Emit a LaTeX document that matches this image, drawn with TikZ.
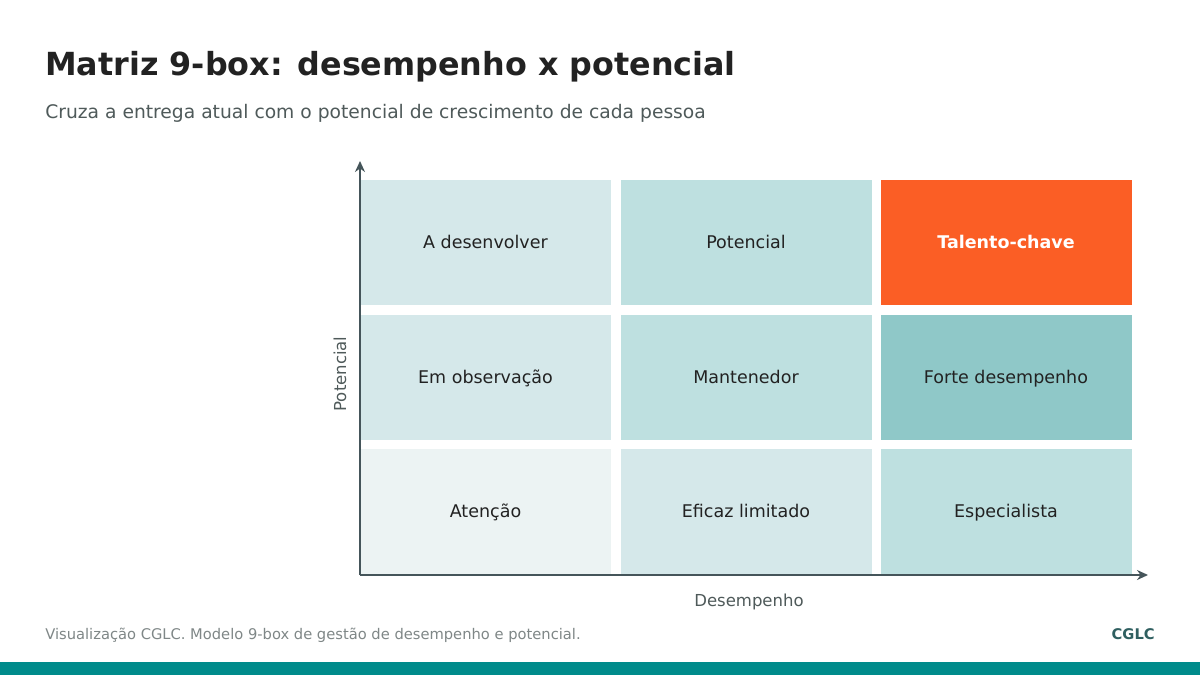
\documentclass[tikz,border=0pt]{standalone}
\usepackage{fontspec}
\setmainfont{DejaVu Sans}
\usetikzlibrary{arrows.meta,positioning}
\definecolor{cellA}{HTML}{ECF3F3}
\definecolor{cellB}{HTML}{D5E8EA}
\definecolor{cellC}{HTML}{BEE0E0}
\definecolor{cellD}{HTML}{8FC8C8}
\definecolor{hot}{HTML}{FB5E25}
\definecolor{axisgray}{HTML}{45555A}
\definecolor{inkdark}{HTML}{222222}
\definecolor{subgray}{HTML}{4F5A5A}
\definecolor{footgray}{HTML}{7F8787}
\definecolor{brandteal}{HTML}{008B8B}
\definecolor{branddark}{HTML}{2F5F60}
\tikzset{
  box/.style={minimum width=251pt, minimum height=125pt, inner sep=0pt,
    text height=16pt, text depth=4pt,
    text=inkdark, font=\fontsize{17.5}{21}\selectfont},
  axislabel/.style={text=subgray, font=\fontsize{16.5}{20}\selectfont},
  flat/.style={inner sep=0pt},
}
\begin{document}
\begin{tikzpicture}[x=1pt, y=-1pt, semithick]
      \useasboundingbox (0,0) rectangle (1200,675);
      \fill [white] (0,0) rectangle (1200,675);
      \fill [brandteal] (0,662) rectangle (1200,675);
      % heading
      \node [flat, anchor=base west, text=inkdark, font=\fontsize{31.8}{38}\selectfont\bfseries] (title) at (45,75) {Matriz 9-box: desempenho x potencial};
      \node [flat, anchor=base west, text=subgray, font=\fontsize{18.7}{22}\selectfont] (subtitle) at (45,118) {Cruza a entrega atual com o potencial de crescimento de cada pessoa};
      % grid
      \node [box, fill=cellB] (a1) at (485.5,242) {A desenvolver};
      \node [box, fill=cellC] (a2) at (746,242) {Potencial};
      \node [box, fill=hot, text=white, font=\fontsize{17.5}{21}\selectfont\bfseries] (a3) at (1006,242) {Talento-chave};
      \node [box, fill=cellB] (b1) at (485.5,377) {Em observação};
      \node [box, fill=cellC] (b2) at (746,377) {Mantenedor};
      \node [box, fill=cellD] (b3) at (1006,377) {Forte desempenho};
      \node [box, fill=cellA] (c1) at (485.5,511.5) {Atenção};
      \node [box, fill=cellB] (c2) at (746,511.5) {Eficaz limitado};
      \node [box, fill=cellC] (c3) at (1006,511.5) {Especialista};
      % axes
      \coordinate (origin) at (360,575);
      \coordinate (ytop) at (360,161);
      \coordinate (xend) at (1148,575);
      \draw [-{Stealth[length=11pt,width=10pt]}, axisgray, line width=2pt] (origin) -- (ytop);
      \draw [-{Stealth[length=11pt,width=10pt]}, axisgray, line width=2pt] (origin) -- (xend);
      \node [axislabel, rotate=90] (ylab) at (340,374) {Potencial};
      \node [axislabel] (xlab) at (749,602) {Desempenho};
      % footer
      \node [flat, anchor=base west, text=footgray, font=\fontsize{14.7}{18}\selectfont] (note) at (45,639) {Visualização CGLC. Modelo 9-box de gestão de desempenho e potencial.};
      \node [flat, anchor=base east, text=branddark, font=\fontsize{14.7}{18}\selectfont\bfseries] (brand) at (1155,639) {CGLC};
\end{tikzpicture}
\end{document}
